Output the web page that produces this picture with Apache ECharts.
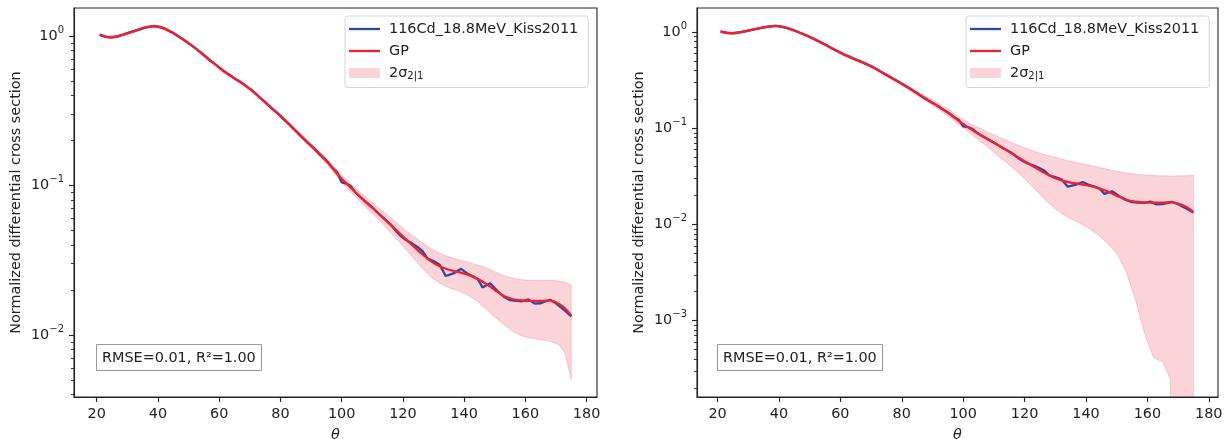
<!DOCTYPE html>
<html>
<head>
<meta charset="utf-8">
<script src="https://cdn.jsdelivr.net/npm/echarts@6/dist/echarts.min.js"></script>
<style>
  html, body { margin: 0; padding: 0; background: #fff; }
  #chart { width: 1228px; height: 439px; }
</style>
</head>
<body>
<div id="chart"></div>
<script>
// experimental points (116Cd_18.8MeV_Kiss2011)
const blueTheta = [21,23,25,27,29,31,33,35,37,39,41,43,45,47,49,51,53,55,57,59,61,63,65,67,69,71,73,75,77,79,81,83,85,87,89,91,93,95,97,98.5,100,101.5,103,104.5,106,108,110,112,114,116,118,119.5,121,123,125,126.5,128,130,132,134,136.5,139,141,143,144.5,146,148.5,151,153,155,157,159,161,163,165,168,170,172.5,175];
const blueVal = [1.02,0.985,0.978,0.998,1.025,1.06,1.09,1.125,1.15,1.165,1.14,1.10,1.045,0.985,0.925,0.865,0.805,0.745,0.685,0.64,0.59,0.555,0.52,0.492,0.458,0.428,0.392,0.362,0.33,0.305,0.278,0.255,0.232,0.21,0.192,0.177,0.16,0.147,0.131,0.123,0.105,0.103,0.099,0.09,0.084,0.0775,0.0715,0.065,0.0598,0.055,0.0488,0.0455,0.0432,0.041,0.0385,0.0362,0.0325,0.0312,0.0295,0.0248,0.0258,0.0277,0.0258,0.0246,0.0236,0.0208,0.0222,0.0196,0.018,0.0171,0.0169,0.0168,0.0173,0.0162,0.0163,0.0172,0.0163,0.0148,0.0133];

// GP mean
const gpTheta = [21,24,27,30,33,36,39,42,45,48,51,54,57,60,63,66,69,72,75,78,81,84,87,90,93,96,99,102,105,108,111,114,117,120,123,126,129,132,135,138,141,144,147,150,153,156,159,162,165,168,171,173,175];
const gpVal = [1.015,0.98,0.995,1.04,1.09,1.14,1.165,1.125,1.045,0.955,0.865,0.775,0.69,0.615,0.555,0.505,0.46,0.41,0.36,0.318,0.28,0.243,0.212,0.185,0.161,0.139,0.117,0.101,0.088,0.077,0.068,0.0595,0.0522,0.0456,0.04,0.0352,0.0313,0.0288,0.0273,0.0264,0.0254,0.0239,0.0221,0.02,0.0182,0.0173,0.017,0.0169,0.0169,0.017,0.0161,0.015,0.0135];

// left panel band (same theta as GP)
const bandLeftLow = [0.995,0.96,0.975,1.02,1.07,1.12,1.145,1.105,1.025,0.937,0.849,0.761,0.677,0.603,0.544,0.495,0.45,0.401,0.352,0.311,0.273,0.237,0.206,0.179,0.155,0.133,0.111,0.0945,0.082,0.071,0.062,0.0535,0.0462,0.0393,0.0335,0.0285,0.0245,0.0222,0.0207,0.0198,0.0186,0.017,0.015,0.0132,0.0117,0.0105,0.0098,0.0095,0.0093,0.0091,0.0086,0.0075,0.005];
const bandLeftHigh = [1.035,1.0,1.015,1.06,1.11,1.16,1.185,1.145,1.065,0.973,0.881,0.789,0.703,0.627,0.566,0.515,0.47,0.419,0.368,0.325,0.287,0.249,0.218,0.191,0.167,0.145,0.123,0.1075,0.094,0.083,0.074,0.066,0.0588,0.0518,0.0465,0.042,0.038,0.0352,0.0333,0.032,0.0308,0.0295,0.0283,0.0265,0.0249,0.024,0.0234,0.0231,0.0231,0.0232,0.023,0.0225,0.0217];

// right panel band (lower bound clipped where non-positive)
const bandRightTheta = [21,24,27,30,33,36,39,42,45,48,51,54,57,60,63,66,69,72,75,78,81,84,87,90,93,96,99,102,105,108,111,114,117,120,123,126,129,132,135,138,141,144,147,150,153,156,159,162,165,167.5,168,171,173,175];
const bandRightLow = [0.99,0.955,0.97,1.015,1.065,1.115,1.14,1.10,1.02,0.932,0.845,0.757,0.674,0.6,0.541,0.492,0.447,0.398,0.349,0.307,0.269,0.232,0.201,0.174,0.15,0.128,0.107,0.09,0.076,0.064,0.053,0.0445,0.0367,0.03,0.024,0.019,0.0155,0.013,0.0115,0.0103,0.0091,0.0078,0.0064,0.005,0.0033,0.0017,0.00075,0.00041,0.00037,0.000245,1e-6,1e-6,1e-6,1e-6];
const bandRightHigh = [1.04,1.005,1.02,1.065,1.115,1.16,1.18,1.15,1.07,0.978,0.885,0.793,0.706,0.63,0.569,0.518,0.473,0.422,0.371,0.329,0.291,0.254,0.223,0.197,0.173,0.151,0.129,0.114,0.102,0.092,0.083,0.0755,0.0688,0.063,0.058,0.054,0.051,0.048,0.0455,0.0435,0.0415,0.0395,0.0375,0.0358,0.0345,0.0335,0.0328,0.0323,0.0321,0.032,0.032,0.0321,0.0322,0.0325];

const xTicks = [20,40,60,80,100,120,140,160,180];
const yDecadesLeft = [-2,-1,0];
const yDecadesRight = [-3,-2,-1,0];

const NAME_EXP = '116Cd_18.8MeV_Kiss2011';
const NAME_GP = 'GP';
const NAME_BAND = '2σ_2|1';
const FONT = 'DejaVu Sans';
const TXT = '#222';
const BLUE = '#2d45a3';
const RED = '#f0202c';
const PINK = 'rgba(232,60,80,0.22)';
const LINE_ICON = 'path://M0,0H310V23H0Z';

const lg = v => Math.log10(v);

function minorTicks(decades, lo, hi) {
  const out = [];
  for (let n = decades[0] - 1; n <= decades[decades.length - 1]; n++) {
    for (let k = 2; k <= 9; k++) {
      const v = n + Math.log10(k);
      if (v > lo && v < hi) out.push(v);
    }
  }
  return out;
}

function supLabel(v) {
  const e = Math.round(v);
  return '10{sup|' + (e < 0 ? '\u2212' + (-e) : e) + '}';
}

const panels = [
  { left: 74, width: 523, xmin: 12.6, xmax: 183.4, ymin: -2.415, ymax: 0.187, decades: yDecadesLeft,
    bandTheta: gpTheta, low: bandLeftLow, high: bandLeftHigh, box: [96, 344], legend: [345, 16] },
  { left: 697, width: 521, xmin: 13.3, xmax: 183.0, ymin: -3.795, ymax: 0.253, decades: yDecadesRight,
    bandTheta: bandRightTheta, low: bandRightLow, high: bandRightHigh, box: [717, 344], legend: [966, 16] }
];

const grid = [], xAxis = [], yAxis = [], series = [], legend = [], title = [];

panels.forEach((p, i) => {
  grid.push({ left: p.left, top: 8, width: p.width, height: 389, show: true,
    outerBoundsMode: 'none', containLabel: false,
    borderColor: TXT, borderWidth: 1.1, backgroundColor: '#fff' });

  xAxis.push({
    type: 'value', gridIndex: i, min: p.xmin, max: p.xmax,
    name: 'θ', nameLocation: 'middle', nameGap: 31,
    nameTextStyle: { fontFamily: FONT, fontSize: 14.4, fontStyle: 'italic', color: TXT },
    axisLine: { show: true, onZero: false, lineStyle: { color: TXT, width: 1.1 } },
    axisTick: { show: true, length: 5, lineStyle: { color: TXT, width: 1.1 }, customValues: xTicks },
    axisLabel: { fontFamily: FONT, fontSize: 14.4, color: TXT, margin: 10, customValues: xTicks },
    splitLine: { show: false }
  });

  yAxis.push({
    type: 'value', gridIndex: i, position: 'left', min: p.ymin, max: p.ymax,
    name: 'Normalized differential cross section', nameLocation: 'middle', nameGap: 51,
    nameTextStyle: { fontFamily: FONT, fontSize: 14.4, color: TXT },
    axisLine: { show: true, onZero: false, lineStyle: { color: TXT, width: 1.1 } },
    axisTick: { show: true, length: 5, lineStyle: { color: TXT, width: 1.1 }, customValues: p.decades },
    axisLabel: { fontFamily: FONT, fontSize: 14.4, color: TXT, margin: 10, lineHeight: 22,
      customValues: p.decades, formatter: supLabel,
      rich: { sup: { fontFamily: FONT, fontSize: 10, lineHeight: 10, verticalAlign: 'top', color: TXT } } },
    splitLine: { show: false }
  });
  // minor log ticks
  yAxis.push({
    type: 'value', gridIndex: i, position: 'left', offset: 0, min: p.ymin, max: p.ymax,
    axisLine: { show: false, onZero: false },
    axisTick: { show: true, length: 3, lineStyle: { color: TXT, width: 0.9 },
      customValues: minorTicks(p.decades, p.ymin, p.ymax) },
    axisLabel: { show: false },
    splitLine: { show: false }
  });
  const yIdx = i * 2;

  const low = p.low, high = p.high, bt = p.bandTheta;
  series.push({
    name: NAME_BAND, type: 'custom', xAxisIndex: i, yAxisIndex: yIdx,
    data: bt.map((t, k) => [t, lg(low[k]), lg(high[k])]),
    encode: { x: 0, y: [1, 2] },
    clip: true, silent: true, z: 1,
    itemStyle: { color: PINK },
    renderItem: function (params, api) {
      if (params.dataIndex !== 0) return null;
      const up = bt.map((t, k) => api.coord([t, lg(high[k])]));
      const dn = bt.map((t, k) => api.coord([t, lg(low[k])])).reverse();
      return {
        type: 'polygon',
        shape: { points: up.concat(dn) },
        style: { fill: PINK, stroke: PINK, lineWidth: 1 }
      };
    }
  });
  series.push({
    name: NAME_EXP, type: 'line', xAxisIndex: i, yAxisIndex: yIdx,
    data: blueTheta.map((t, k) => [t, lg(blueVal[k])]),
    symbol: 'none', color: BLUE, lineStyle: { color: BLUE, width: 2.3 }, z: 3
  });
  series.push({
    name: NAME_GP, type: 'line', xAxisIndex: i, yAxisIndex: yIdx,
    data: gpTheta.map((t, k) => [t, lg(gpVal[k])]),
    symbol: 'none', smooth: 0.3, color: RED, lineStyle: { color: RED, width: 2.3 }, z: 4
  });

  legend.push({
    orient: 'vertical', left: p.legend[0], top: p.legend[1],
    padding: [6, 10, 6, 4], itemGap: 8, itemWidth: 31, itemHeight: 10,
    borderColor: '#d5d5d5', borderWidth: 1, borderRadius: 3, backgroundColor: '#fff',
    selectedMode: false, symbolKeepAspect: true,
    data: [
      { name: NAME_EXP, icon: LINE_ICON, itemStyle: { color: BLUE } },
      { name: NAME_GP, icon: LINE_ICON, itemStyle: { color: RED } },
      { name: NAME_BAND, icon: 'rect', itemStyle: { color: PINK } }
    ],
    formatter: n => n === NAME_BAND ? '2σ{sub|2|1}' : n,
    textStyle: { fontFamily: FONT, fontSize: 14.4, color: TXT, padding: [0, 0, 0, 4],
      rich: { sub: { fontFamily: FONT, fontSize: 10, color: TXT, padding: [7, 0, 0, 0] } } }
  });

  title.push({
    text: 'RMSE=0.01, R²=1.00', left: p.box[0], top: p.box[1],
    padding: [5, 6, 4, 6], borderColor: '#999', borderWidth: 1, backgroundColor: '#fff',
    textStyle: { fontFamily: FONT, fontSize: 14.4, lineHeight: 18, fontWeight: 'normal', color: TXT }
  });
});

const myChart = echarts.init(document.getElementById('chart'), null, { renderer: 'canvas' });
myChart.setOption({
  animation: false,
  backgroundColor: '#fff',
  textStyle: { fontFamily: FONT },
  title, legend, grid, xAxis, yAxis, series
});
</script>
</body>
</html>
